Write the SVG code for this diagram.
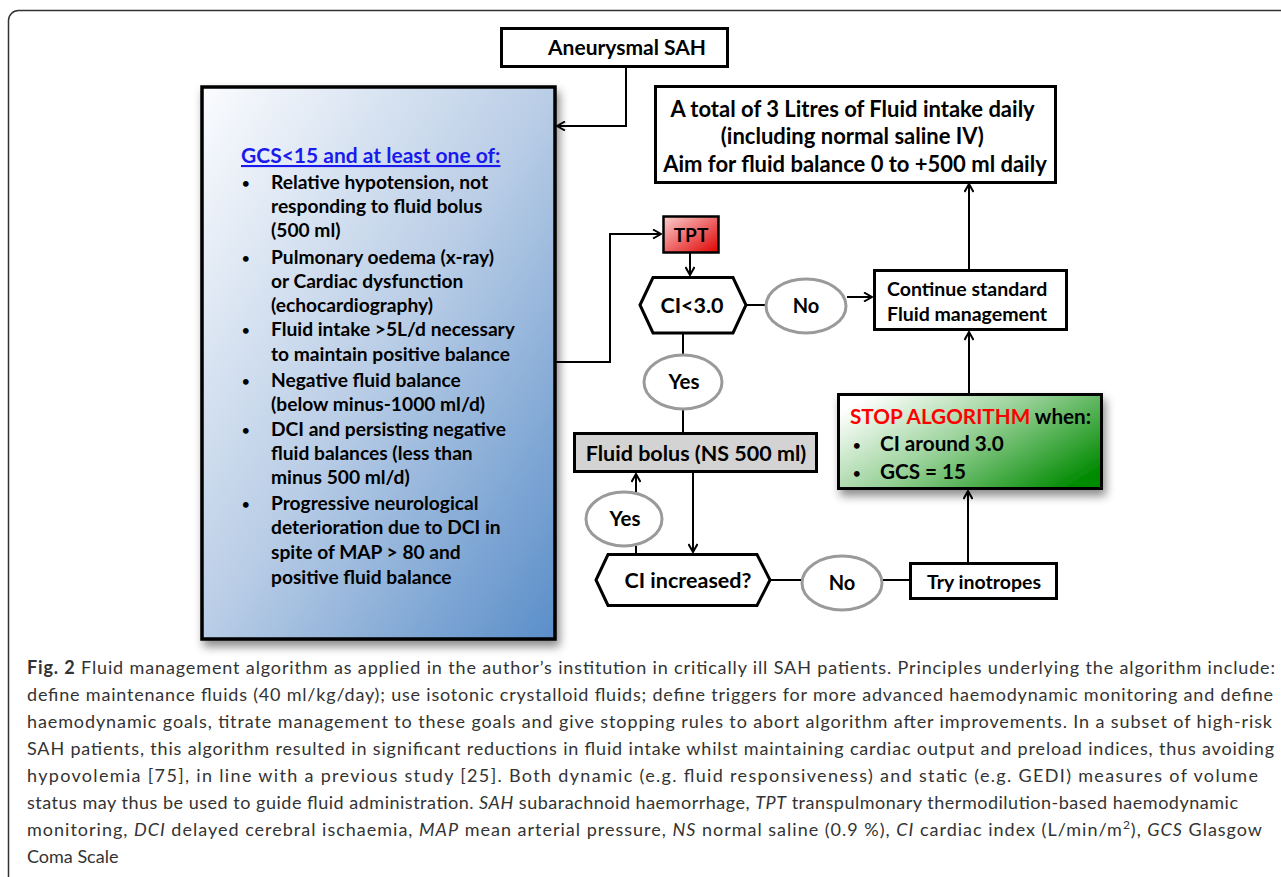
<svg xmlns="http://www.w3.org/2000/svg" width="1281" height="877" viewBox="0 0 1281 877">
<defs>
<style>
.b{font-family:Lato,"Liberation Sans",sans-serif;font-weight:bold;fill:#000}
.box{fill:#fff;stroke:#000;stroke-width:3}
.ell{fill:#fff;stroke:#9a9a9a;stroke-width:3}
.con{fill:none;stroke:#000;stroke-width:2}
.cap{font-family:Lato,"Liberation Sans",sans-serif;font-size:18px;fill:#333}
.i{font-style:italic}
.bul{font-size:13px}
</style>
<marker id="ah" viewBox="0 0 10 10" refX="9" refY="5" markerWidth="10" markerHeight="10" markerUnits="userSpaceOnUse" orient="auto">
<path d="M1,0.5 L9,5 L1,9.5" fill="none" stroke="#000" stroke-width="2"/>
</marker>
<linearGradient id="blue" x1="0" y1="0" x2="1" y2="1">
<stop offset="0" stop-color="#fbfcfe"/>
<stop offset="0.5" stop-color="#b9cde6"/>
<stop offset="1" stop-color="#5a8ec9"/>
</linearGradient>
<linearGradient id="red" x1="0" y1="0" x2="1" y2="1">
<stop offset="0" stop-color="#fbd0d0"/>
<stop offset="1" stop-color="#e00000"/>
</linearGradient>
<linearGradient id="green" x1="0" y1="0.2" x2="1" y2="0.8">
<stop offset="0" stop-color="#ffffff"/>
<stop offset="0.45" stop-color="#9ad29a"/>
<stop offset="1" stop-color="#008a00"/>
</linearGradient>
<filter id="sh" x="-10%" y="-10%" width="130%" height="140%">
<feDropShadow dx="3" dy="6" stdDeviation="5" flood-color="#000" flood-opacity="0.45"/>
</filter>
</defs>
<rect x="8.5" y="10.5" width="1300" height="900" rx="10" fill="#fff" stroke="#333" stroke-width="1.5"/>

<g id="connectors">
<path class="con" d="M626,66 V126 H557" marker-end="url(#ah)"/>
<path class="con" d="M555,362 H610 V234 H661" marker-end="url(#ah)"/>
<path class="con" d="M690,252 V275" marker-end="url(#ah)"/>
<path class="con" d="M746,305 H766"/>
<path class="con" d="M847,297 H872" marker-end="url(#ah)"/>
<path class="con" d="M969,270 V184" marker-end="url(#ah)"/>
<path class="con" d="M683,333 V355"/>
<path class="con" d="M683,409 V433"/>
<path class="con" d="M693,472 V552" marker-end="url(#ah)"/>
<path class="con" d="M636,554 V546"/>
<path class="con" d="M636,492 V474" marker-end="url(#ah)"/>
<path class="con" d="M770,580 H802"/>
<path class="con" d="M882,580 H910"/>
<path class="con" d="M968,563 V491" marker-end="url(#ah)"/>
<path class="con" d="M969,394 V332" marker-end="url(#ah)"/>
</g>

<g id="n-sah">
<rect class="box" x="501.5" y="28.5" width="226" height="38"/>
<text class="b" x="627" y="55" font-size="21" text-anchor="middle">Aneurysmal SAH</text>
</g>

<g id="n-criteria">
<rect x="202" y="87" width="353" height="552" fill="url(#blue)" stroke="#000" stroke-width="3.5" filter="url(#sh)"/>
<text class="b" font-size="19.2">
<tspan x="241" y="163" fill="#1a1aee" text-decoration="underline" font-size="21">GCS&lt;15 and at least one of:</tspan>
<tspan class="bul" x="242" y="188">•</tspan><tspan x="271" y="189">Relative hypotension, not</tspan>
<tspan x="271" y="213">responding to fluid bolus</tspan>
<tspan x="271" y="237">(500 ml)</tspan>
<tspan class="bul" x="242" y="263">•</tspan><tspan x="271" y="264">Pulmonary oedema (x-ray)</tspan>
<tspan x="271" y="288">or Cardiac dysfunction</tspan>
<tspan x="271" y="312">(echocardiography)</tspan>
<tspan class="bul" x="242" y="335">•</tspan><tspan x="271" y="336">Fluid intake &gt;5L/d necessary</tspan>
<tspan x="271" y="361">to maintain positive balance</tspan>
<tspan class="bul" x="242" y="386">•</tspan><tspan x="271" y="387">Negative fluid balance</tspan>
<tspan x="271" y="411">(below minus-1000 ml/d)</tspan>
<tspan class="bul" x="242" y="435">•</tspan><tspan x="271" y="436">DCI and persisting negative</tspan>
<tspan x="271" y="460">fluid balances (less than</tspan>
<tspan x="271" y="484">minus 500 ml/d)</tspan>
<tspan class="bul" x="242" y="509">•</tspan><tspan x="271" y="510">Progressive neurological</tspan>
<tspan x="271" y="534">deterioration due to DCI in</tspan>
<tspan x="271" y="559">spite of MAP &gt; 80 and</tspan>
<tspan x="271" y="584">positive fluid balance</tspan>
</text>
</g>

<g id="n-total">
<rect class="box" x="655.5" y="86.5" width="400" height="96"/>
<text class="b" font-size="22" text-anchor="middle">
<tspan x="855" y="117">A total of 3 Litres of Fluid intake daily</tspan>
<tspan x="855" y="144">(including normal saline IV)</tspan>
<tspan x="855" y="172">Aim for fluid balance 0 to +500 ml daily</tspan>
</text>
</g>

<g id="n-tpt">
<rect x="663.5" y="216.5" width="55" height="36" fill="url(#red)" stroke="#000" stroke-width="2.5"/>
<text class="b" x="691" y="242" font-size="19" text-anchor="middle">TPT</text>
</g>

<g id="n-ci30">
<polygon class="box" points="640,305 653,277.5 733,277.5 746,305 733,333 653,333"/>
<text class="b" x="692" y="313" font-size="21.5" text-anchor="middle">CI&lt;3.0</text>
</g>

<g id="n-no1">
<ellipse class="ell" cx="806" cy="306" rx="40" ry="27"/>
<text class="b" x="806" y="313" font-size="20" text-anchor="middle">No</text>
</g>

<g id="n-continue">
<rect class="box" x="874.5" y="270.5" width="192" height="59"/>
<text class="b" font-size="19.5">
<tspan x="887" y="296">Continue standard</tspan>
<tspan x="887" y="321">Fluid management</tspan>
</text>
</g>

<g id="n-yes1">
<ellipse class="ell" cx="683" cy="382" rx="39" ry="27"/>
<text class="b" x="684" y="389" font-size="20.5" text-anchor="middle">Yes</text>
</g>

<g id="n-bolus">
<rect x="574.5" y="433.5" width="242" height="38" fill="#d3d3d3" stroke="#000" stroke-width="3"/>
<text class="b" x="696" y="461" font-size="21.5" text-anchor="middle">Fluid bolus (NS 500 ml)</text>
</g>

<g id="n-yes2">
<ellipse class="ell" cx="624" cy="519" rx="38" ry="27"/>
<text class="b" x="625" y="526" font-size="20.5" text-anchor="middle">Yes</text>
</g>

<g id="n-ciinc">
<polygon class="box" points="596,580 608,554.5 757,554.5 770,580 757,605.5 608,605.5"/>
<text class="b" x="688" y="588" font-size="21.5" text-anchor="middle">CI increased?</text>
</g>

<g id="n-no2">
<ellipse class="ell" cx="842" cy="583" rx="40" ry="27"/>
<text class="b" x="842" y="590" font-size="20" text-anchor="middle">No</text>
</g>

<g id="n-inotropes">
<rect class="box" x="910.5" y="563.5" width="146" height="35"/>
<text class="b" x="984" y="589" font-size="19.5" text-anchor="middle">Try inotropes</text>
</g>

<g id="n-stop">
<rect x="838.5" y="394.5" width="263" height="94" fill="url(#green)" stroke="#000" stroke-width="3" filter="url(#sh)"/>
<text class="b" font-size="20.7">
<tspan x="850" y="424"><tspan fill="#ff0000">STOP ALGORITHM</tspan> when:</tspan>
<tspan class="bul" x="853" y="450">•</tspan><tspan x="880" y="451">CI around 3.0</tspan>
<tspan class="bul" x="853" y="478">•</tspan><tspan x="880" y="479">GCS = 15</tspan>
</text>
</g>

<g id="caption">
<text class="cap" x="27" y="674" textLength="1248" lengthAdjust="spacing"><tspan font-weight="bold">Fig. 2</tspan> Fluid management algorithm as applied in the author’s institution in critically ill SAH patients. Principles underlying the algorithm include:</text>
<text class="cap" x="27" y="701" textLength="1246" lengthAdjust="spacing">define maintenance fluids (40 ml/kg/day); use isotonic crystalloid fluids; define triggers for more advanced haemodynamic monitoring and define</text>
<text class="cap" x="27" y="728" textLength="1245" lengthAdjust="spacing">haemodynamic goals, titrate management to these goals and give stopping rules to abort algorithm after improvements. In a subset of high-risk</text>
<text class="cap" x="27" y="755" textLength="1247" lengthAdjust="spacing">SAH patients, this algorithm resulted in significant reductions in fluid intake whilst maintaining cardiac output and preload indices, thus avoiding</text>
<text class="cap" x="27" y="782" textLength="1231" lengthAdjust="spacing">hypovolemia [75], in line with a previous study [25]. Both dynamic (e.g. fluid responsiveness) and static (e.g. GEDI) measures of volume</text>
<text class="cap" x="27" y="809" textLength="1211" lengthAdjust="spacing">status may thus be used to guide fluid administration. <tspan class="i">SAH</tspan> subarachnoid haemorrhage, <tspan class="i">TPT</tspan> transpulmonary thermodilution-based haemodynamic</text>
<text class="cap" x="27" y="836" textLength="1235" lengthAdjust="spacing">monitoring, <tspan class="i">DCI</tspan> delayed cerebral ischaemia, <tspan class="i">MAP</tspan> mean arterial pressure, <tspan class="i">NS</tspan> normal saline (0.9 %), <tspan class="i">CI</tspan> cardiac index (L/min/m<tspan font-size="12" dy="-7">2</tspan><tspan dy="7">), </tspan><tspan class="i">GCS</tspan> Glasgow</text>
<text class="cap" x="27" y="863">Coma Scale</text>
</g>
</svg>
